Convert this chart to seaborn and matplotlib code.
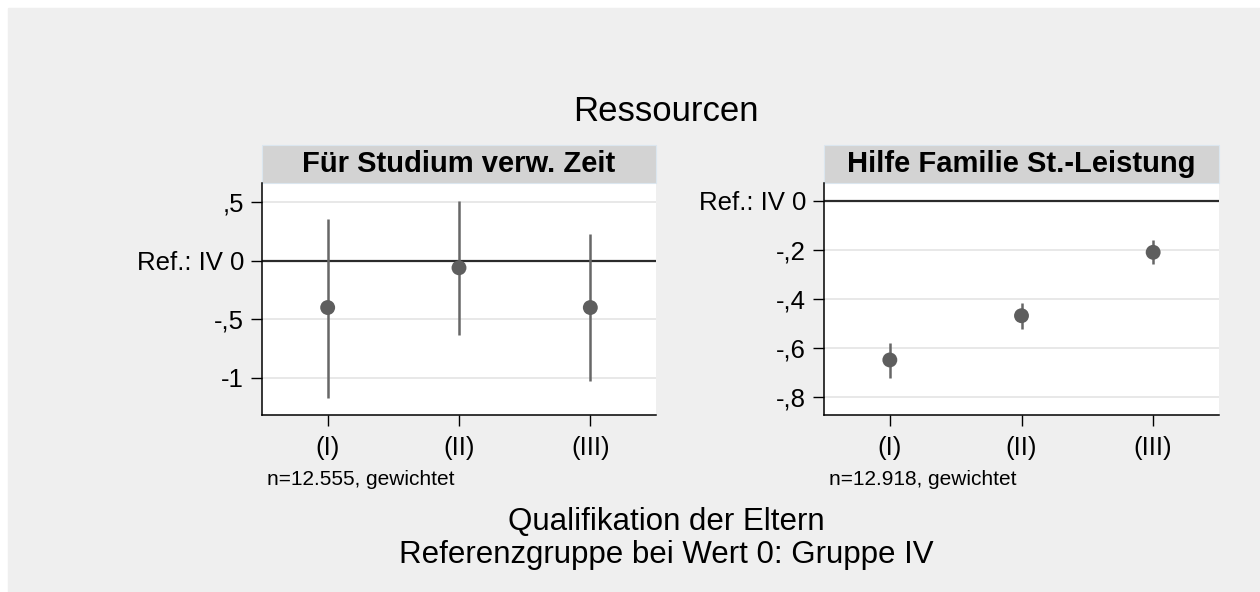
import numpy as np
import pandas as pd
import seaborn as sns
import matplotlib.pyplot as plt
from matplotlib.patches import Rectangle

# Gruppen der Eltern-Qualifikation (Referenz: Gruppe IV = 0)
groups = ["(I)", "(II)", "(III)"]

# Panel 1: Für Studium verwendete Zeit
zeit_est = [-0.40, -0.06, -0.40]
zeit_lo = [-1.17, -0.635, -1.03]
zeit_hi = [0.36, 0.51, 0.23]

# Panel 2: Hilfe Familie Studienleistung
hilfe_est = [-0.648, -0.468, -0.21]
hilfe_lo = [-0.72, -0.522, -0.258]
hilfe_hi = [-0.58, -0.418, -0.16]

zeit_ticks = [0.5, 0, -0.5, -1]
zeit_ticklabels = [",5", "Ref.: IV 0", "-,5", "-1"]
hilfe_ticks = [0, -0.2, -0.4, -0.6, -0.8]
hilfe_ticklabels = ["Ref.: IV 0", "-,2", "-,4", "-,6", "-,8"]

panel_titles = ["Für Studium verw. Zeit", "Hilfe Familie St.-Leistung"]
notes = ["n=12.555, gewichtet", "n=12.918, gewichtet"]

sns.set_theme(style="white")
plt.rcParams["font.family"] = ["Liberation Sans", "DejaVu Sans"]

W, H = 1260, 592
fig = plt.figure(figsize=(W / 100, H / 100), dpi=100, facecolor="white")
bg = "#efefef"
fig.patches.append(Rectangle((8 / W, 0), 1, 1 - 8 / H, transform=fig.transFigure,
                             color=bg, zorder=-10))

ax1 = fig.add_axes([262 / W, 1 - 415 / H, 394 / W, 232 / H])
ax2 = fig.add_axes([824 / W, 1 - 415 / H, 395 / W, 232 / H])

panels = [
    (ax1, zeit_est, zeit_lo, zeit_hi, zeit_ticks, zeit_ticklabels, (-1.319, 0.665)),
    (ax2, hilfe_est, hilfe_lo, hilfe_hi, hilfe_ticks, hilfe_ticklabels, (-0.872, 0.072)),
]

for i, (ax, est, lo, hi, ticks, tlabels, ylim) in enumerate(panels):
    df = pd.DataFrame({"pos": np.arange(len(groups)), "est": est, "lo": lo, "hi": hi})
    ax.set_facecolor("white")

    # Gitterlinien und Referenzlinie
    for t in ticks:
        if t == 0:
            ax.axhline(0, color="#2b2b2b", lw=1.6, zorder=1)
        else:
            ax.axhline(t, color="#e6e6e6", lw=1.3, zorder=0)

    ax.vlines(df["pos"], df["lo"], df["hi"], color="#676767", lw=1.8, zorder=2)
    sns.scatterplot(data=df, x="pos", y="est", ax=ax, s=115, color="#5e5e5e",
                    edgecolor="none", zorder=3)

    ax.set_xlim(-0.5, 2.5)
    ax.set_ylim(*ylim)
    ax.set_xticks(df["pos"])
    ax.set_xticklabels(groups)
    ax.set_yticks(ticks)
    ax.set_yticklabels(tlabels)
    ax.set_xlabel("")
    ax.set_ylabel("")
    ax.tick_params(axis="both", which="both", length=8, width=1, color="black",
                   labelsize=18.5, labelcolor="black", left=True, bottom=True)
    ax.tick_params(axis="y", pad=5)
    ax.tick_params(axis="x", pad=7)

    for side in ["top", "right"]:
        ax.spines[side].set_visible(False)
    for side in ["left", "bottom"]:
        ax.spines[side].set_color("black")
        ax.spines[side].set_linewidth(1.1)

    # Titelstreifen über dem Panel
    strip_h = (183 - 145) / 232
    ax.add_patch(Rectangle((0, 1), 1, strip_h, transform=ax.transAxes, clip_on=False,
                           facecolor="#d3d3d3", edgecolor="#dbe6ef", lw=0.8))
    ax.text(0.5, 1 + strip_h / 2, panel_titles[i], transform=ax.transAxes,
            ha="center", va="center", fontsize=21, fontweight="bold", color="black")

    ax.text(0.012, -0.30, notes[i], transform=ax.transAxes, ha="left", va="baseline",
            fontsize=15, color="black")

fig.text(666 / W, 1 - 121 / H, "Ressourcen", ha="center", va="baseline",
         fontsize=25, color="black")
fig.text(666 / W, 1 - 530 / H, "Qualifikation der Eltern", ha="center", va="baseline",
         fontsize=22.5, color="black")
fig.text(666 / W, 1 - 563 / H, "Referenzgruppe bei Wert 0: Gruppe IV", ha="center",
         va="baseline", fontsize=22.5, color="black")

plt.savefig("out.png", dpi=100, facecolor=fig.get_facecolor())
